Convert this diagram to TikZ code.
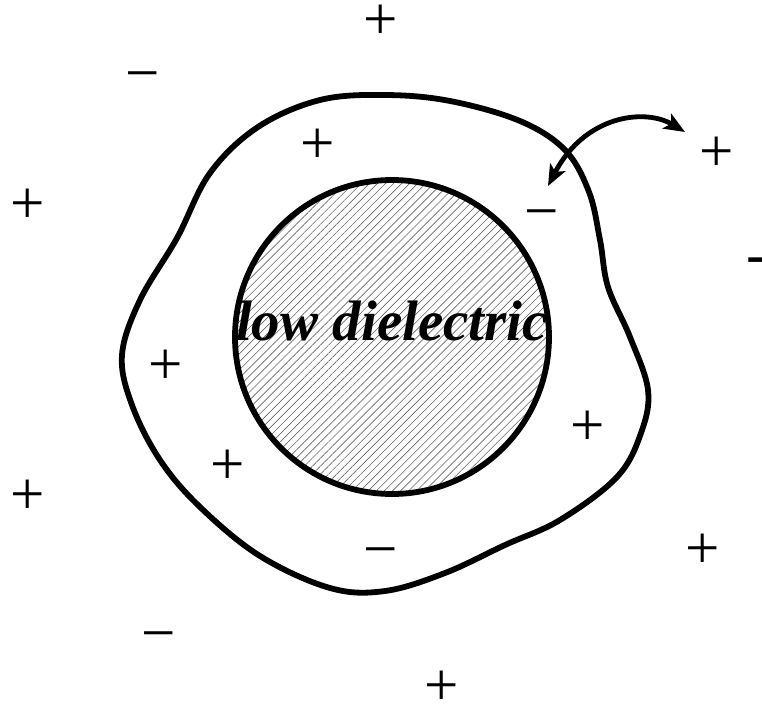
\documentclass[tikz,border=0pt]{standalone}
\usepackage{fontspec}
\setmainfont{Liberation Serif}
\usetikzlibrary{arrows.meta,patterns.meta}
\begin{document}
\begin{tikzpicture}[x=1pt,y=-1pt,
  sign/.style={font=\fontsize{61}{61}\selectfont, inner sep=0pt, anchor=base, yshift=-21pt},
  hyph/.style={font=\fontsize{61}{61}\selectfont, inner sep=0pt, anchor=base west, yshift=-17.8pt},
  boundary/.style={line width=5.8pt, line join=round},
  core/.style={circle, draw, line width=5.8pt, inner sep=0pt, minimum size=314pt,
    pattern={Lines[angle=45,distance=5.7pt,line width=0.65pt]}, pattern color=black!60},
  label/.style={font=\fontsize{57}{57}\selectfont\bfseries\itshape, inner sep=0pt, anchor=base},
  exchange/.style={line width=4.8pt,
    {Stealth[length=21pt,width=17pt,inset=5pt]}-{Stealth[length=21pt,width=17pt,inset=5pt]}}
]
\useasboundingbox (0,0) rectangle (762,706);

% outer boundary
\draw[boundary] plot[smooth cycle, tension=0.6] coordinates {
  (122,355) (132,405) (160,460) (200,507) (260,556) (330,588) (385,591)
  (445,573) (505,545) (560,520) (617,477) (641,433) (648,390) (630,337)
  (608,287) (600,240) (589,192) (565,150) (520,121) (450,101) (385,95)
  (320,100) (258,127) (210,173) (177,238) (140,300)};

% low dielectric core
\node[core] (cav) at (392,337) {};
\node[label] (lbl) at (392,340) {low dielectric};

% signs
\node[sign] (p1) at (381,19) {+};
\node[sign] (m1) at (143,73) {−};
\node[sign] (p2) at (318,142) {+};
\node[sign] (p3) at (717,150) {+};
\node[sign] (p4) at (28,202) {+};
\node[sign] (m2) at (542,210) {−};
\node[hyph] (h1) at (746,257) {-};
\node[sign] (p5) at (166,363) {+};
\node[sign] (p6) at (588,424) {+};
\node[sign] (p7) at (228,463) {+};
\node[sign] (p8) at (28,493) {+};
\node[sign] (m3) at (381,548) {−};
\node[sign] (p9) at (703,547) {+};
\node[sign] (m4) at (159,632) {−};
\node[sign] (p10) at (442,684) {+};

% exchange arrow
\coordinate (a1) at (548,186);
\coordinate (a2) at (685,132);
\draw[exchange] (a1) .. controls (585,115) and (645,108) .. (a2);
\end{tikzpicture}
\end{document}
